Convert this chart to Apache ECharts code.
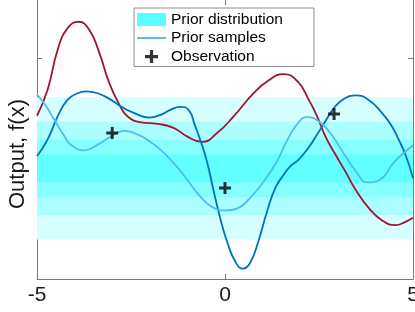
<!DOCTYPE html>
<html>
<head>
<meta charset="utf-8">
<script src="https://cdn.jsdelivr.net/npm/echarts@6/dist/echarts.min.js"></script>
<style>
html,body{margin:0;padding:0;background:#fff;}
#chart{width:415px;height:312px;}
</style>
</head>
<body>
<div id="chart"></div>
<script>
// ---- data ----
const xTicks = [-5, 0, 5];
const yTicks = [-3, 0, 3];
const bandHalfWidths = [1.93, 1.27, 0.78, 0.375];

const redX = [-5, -4.72, -4.45, -4.19, -3.89, -3.61, -3.34, -3.08, -2.81, -2.59, -2.23, -1.79, -1.37, -1.01, -0.61, -0.21, 0.23, 0.76, 1.12, 1.56, 1.93, 2.22, 2.45, 2.67, 2.94, 3.20, 3.47, 3.82, 4.18, 4.53, 4.80, 5];
const redY = [1.43, 2.13, 3.22, 3.80, 3.98, 3.76, 3.13, 2.32, 1.73, 1.41, 1.25, 1.21, 1.10, 0.87, 0.72, 0.96, 1.41, 2.04, 2.36, 2.56, 2.36, 1.88, 1.41, 0.87, 0.37, -0.08, -0.57, -1.07, -1.41, -1.54, -1.45, -1.34];

const blueX = [-5, -4.72, -4.45, -4.19, -3.92, -3.70, -3.39, -3.03, -2.75, -2.41, -2.01, -1.70, -1.45, -1.19, -0.97, -0.79, -0.66, -0.48, -0.30, -0.13, 0.05, 0.27, 0.48, 0.67, 0.89, 1.12, 1.34, 1.56, 1.74, 1.96, 2.22, 2.45, 2.67, 2.93, 3.20, 3.47, 3.82, 4.18, 4.44, 4.62, 4.80, 5];
const blueY = [0.33, 0.78, 1.41, 1.86, 2.04, 2.09, 2.04, 1.86, 1.67, 1.50, 1.38, 1.46, 1.59, 1.67, 1.59, 1.14, 0.78, 0.19, -0.62, -1.34, -1.97, -2.52, -2.72, -2.56, -1.97, -1.16, -0.53, -0.17, 0.06, 0.24, 0.56, 0.92, 1.28, 1.68, 1.91, 1.98, 1.86, 1.50, 1.14, 0.78, 0.37, -0.26];

const lightX = [-5, -4.81, -4.54, -4.27, -4.10, -3.74, -3.39, -3.03, -2.68, -2.41, -2.07, -1.72, -1.37, -1.01, -0.66, -0.30, 0.01, 0.32, 0.67, 1.03, 1.38, 1.65, 1.91, 2.18, 2.49, 2.80, 3.15, 3.51, 3.78, 4.13, 4.48, 4.80, 5];
const lightY = [2.00, 1.77, 1.32, 0.87, 0.64, 0.49, 0.64, 0.87, 1.02, 0.96, 0.78, 0.51, 0.15, -0.30, -0.76, -1.07, -1.14, -1.09, -0.80, -0.35, 0.19, 0.75, 1.19, 1.39, 1.28, 0.96, 0.42, -0.12, -0.38, -0.30, 0.15, 0.46, 0.63];

const obsX = [-3, 0, 2.9];
const obsY = [0.96, -0.53, 1.48];

// ---- styles ----
const bandColors = ['#d6ffff', '#acffff', '#88ffff', '#62ffff'];
const plusPath = 'path://M4.5,0H7.5V4.5H12V7.5H7.5V12H4.5V7.5H0V4.5H4.5Z';
const linePath = 'path://M0,0H30V2H0Z';
const FONT = 'Liberation Sans, Arial, Helvetica, sans-serif';
const axisColor = '#7a7a7a';

const zip = (xs, ys) => xs.map((x, i) => [x, ys[i]]);

const chart = echarts.init(document.getElementById('chart'), null, {renderer: 'canvas'});

const bandAreas = bandHalfWidths.map((h, i) => [
  {yAxis: -h, itemStyle: {color: bandColors[i], opacity: 1}},
  {yAxis: h}
]);

const option = {
  animation: false,
  backgroundColor: '#fff',
  grid: {left: 37, right: 2, top: 0, bottom: 33, containLabel: false, outerBoundsMode: 'none'},
  xAxis: [{
    type: 'value', min: xTicks[0], max: xTicks[xTicks.length - 1], interval: 5, position: 'bottom',
    axisLine: {show: true, onZero: false, lineStyle: {color: axisColor, width: 1}},
    axisTick: {show: true, inside: true, length: 5, lineStyle: {color: axisColor}},
    axisLabel: {show: true, fontSize: 21, color: '#1a1a1a', fontFamily: FONT, margin: 6,
      customValues: xTicks, hideOverlap: false},
    splitLine: {show: false}
  }, {
    type: 'value', min: -5, max: 5, interval: 5, position: 'top',
    axisLine: {show: false, onZero: false},
    axisTick: {show: true, inside: true, length: 5, lineStyle: {color: axisColor}, customValues: [0]},
    axisLabel: {show: false},
    splitLine: {show: false}
  }],
  yAxis: [{
    type: 'value', min: -3, max: 4.57, interval: 3, position: 'left',
    axisLine: {show: true, onZero: false, lineStyle: {color: axisColor, width: 1}},
    axisTick: {show: true, inside: true, length: 5, lineStyle: {color: axisColor}, customValues: yTicks},
    axisLabel: {show: false},
    splitLine: {show: false}
  }, {
    type: 'value', min: -3, max: 4.57, interval: 3, position: 'right',
    axisLine: {show: true, onZero: false, lineStyle: {color: axisColor, width: 1}},
    axisTick: {show: true, inside: true, length: 5, lineStyle: {color: axisColor}, customValues: yTicks},
    axisLabel: {show: false},
    splitLine: {show: false}
  }],
  legend: {
    show: true, orient: 'vertical', left: 134, top: 8,
    backgroundColor: '#fff', borderColor: '#8f8f8f', borderWidth: 1,
    padding: [3.5, 31, 2, 3], itemGap: 2.5, itemWidth: 29, itemHeight: 13,
    textStyle: {fontSize: 15.5, color: '#000', fontFamily: FONT},
    data: [
      {name: 'Prior distribution', icon: 'rect', itemStyle: {color: '#5cffff'}},
      {name: 'Prior samples', icon: linePath, itemStyle: {color: '#4dbeee'}},
      {name: 'Observation', icon: plusPath, itemStyle: {color: '#000'}}
    ]
  },
  graphic: [{
    type: 'text', x: 18, y: 154, rotation: Math.PI / 2,
    style: {text: 'Output, f(x)', fontSize: 22, fontFamily: FONT, fill: '#1a1a1a',
      align: 'center', verticalAlign: 'middle'}
  }],
  series: [{
    name: 'Prior distribution', type: 'line', z: 1, silent: true,
    data: [[-5, 0], [5, 0]], symbol: 'none', lineStyle: {opacity: 0},
    markArea: {silent: true, data: bandAreas}
  }, {
    name: 'Sample A', type: 'line', z: 3, data: zip(redX, redY), smooth: 0.5,
    symbol: 'none', lineStyle: {color: '#a2142f', width: 1.8}, itemStyle: {color: '#a2142f'}
  }, {
    name: 'Sample B', type: 'line', z: 3, data: zip(blueX, blueY), smooth: 0.5,
    symbol: 'none', lineStyle: {color: '#0072bd', width: 1.8}, itemStyle: {color: '#0072bd'}
  }, {
    name: 'Prior samples', type: 'line', z: 3, data: zip(lightX, lightY), smooth: 0.5,
    symbol: 'none', lineStyle: {color: '#4dbeee', width: 1.8}, itemStyle: {color: '#4dbeee'}
  }, {
    name: 'Observation', type: 'scatter', z: 4, data: zip(obsX, obsY),
    symbol: plusPath, symbolSize: 12, itemStyle: {color: '#000'}
  }]
};
chart.setOption(option);
</script>
</body>
</html>
